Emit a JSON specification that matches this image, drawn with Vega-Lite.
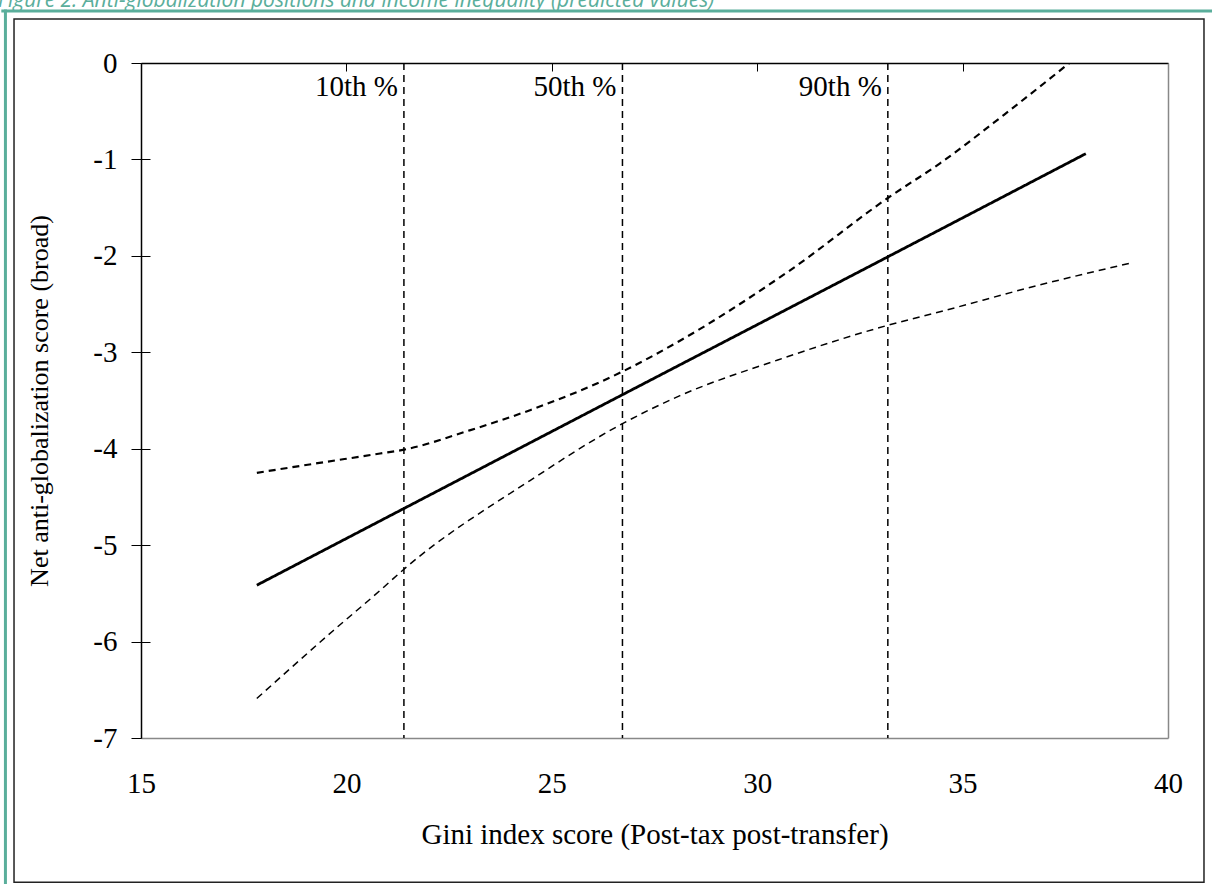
{
  "$schema": "https://vega.github.io/schema/vega-lite/v6.json",
  "width": 1027,
  "height": 675,
  "autosize": {"type": "none"},
  "padding": {"left": 141, "top": 63, "right": 44, "bottom": 146},
  "background": "white",
  "config": {"view": {"stroke": null}, "font": "Liberation Serif"},
  "title": {
    "text": "Figure 2: Anti-globalization positions and income inequality (predicted values)",
    "anchor": "start",
    "frame": "group",
    "dx": -143,
    "dy": 22,
    "offset": 2,
    "baseline": "alphabetic",
    "font": "Open Sans",
    "fontStyle": "italic",
    "fontWeight": "normal",
    "fontSize": 21,
    "color": "#5aae9b"
  },
  "datasets": {
    "curves": [
      {"gini": 17.82, "score": -5.415, "series": "fit"},
      {"gini": 21.4, "score": -4.62, "series": "fit"},
      {"gini": 26.72, "score": -3.44, "series": "fit"},
      {"gini": 33.18, "score": -2.01, "series": "fit"},
      {"gini": 38.0, "score": -0.94, "series": "fit"},
      {"gini": 17.82, "score": -4.25, "series": "upper"},
      {"gini": 19.3, "score": -4.15, "series": "upper"},
      {"gini": 20.82, "score": -4.05, "series": "upper"},
      {"gini": 21.4, "score": -4.01, "series": "upper"},
      {"gini": 23.0, "score": -3.81, "series": "upper"},
      {"gini": 24.47, "score": -3.6, "series": "upper"},
      {"gini": 26.72, "score": -3.2, "series": "upper"},
      {"gini": 28.12, "score": -2.88, "series": "upper"},
      {"gini": 30.8, "score": -2.15, "series": "upper"},
      {"gini": 33.18, "score": -1.4, "series": "upper"},
      {"gini": 34.45, "score": -1.04, "series": "upper"},
      {"gini": 36.0, "score": -0.54, "series": "upper"},
      {"gini": 37.6, "score": 0.0, "series": "upper"},
      {"gini": 17.82, "score": -6.59, "series": "lower"},
      {"gini": 19.67, "score": -5.89, "series": "lower"},
      {"gini": 20.82, "score": -5.47, "series": "lower"},
      {"gini": 21.4, "score": -5.25, "series": "lower"},
      {"gini": 24.47, "score": -4.33, "series": "lower"},
      {"gini": 26.72, "score": -3.74, "series": "lower"},
      {"gini": 28.12, "score": -3.45, "series": "lower"},
      {"gini": 30.5, "score": -3.08, "series": "lower"},
      {"gini": 33.18, "score": -2.72, "series": "lower"},
      {"gini": 34.45, "score": -2.58, "series": "lower"},
      {"gini": 36.8, "score": -2.31, "series": "lower"},
      {"gini": 39.14, "score": -2.07, "series": "lower"}
    ],
    "pct": [
      {"label": "10th %", "gini": 21.4},
      {"label": "50th %", "gini": 26.72},
      {"label": "90th %", "gini": 33.18}
    ]
  },
  "layer": [
    {
      "data": {"values": [{}]},
      "mark": {"type": "rule", "color": "#5aae9b", "strokeWidth": 3},
      "encoding": {
        "x": {"datum": 11.6, "type": "quantitative", "scale": {"domain": [15, 40], "nice": false, "zero": false}, "axis": null},
        "x2": {"datum": 41.2},
        "y": {"datum": 0.54, "type": "quantitative", "scale": {"domain": [-7, 0], "nice": false, "zero": false}, "axis": null}
      }
    },
    {
      "data": {"values": [{}]},
      "mark": {"type": "rule", "color": "#5aae9b", "strokeWidth": 3},
      "encoding": {
        "x": {"datum": 11.7, "type": "quantitative", "scale": {"domain": [15, 40], "nice": false, "zero": false}, "axis": null},
        "y": {"datum": 0.555, "type": "quantitative", "scale": {"domain": [-7, 0], "nice": false, "zero": false}, "axis": null},
        "y2": {"datum": -8.6}
      }
    },
    {
      "data": {"values": [{}]},
      "mark": {"type": "rect", "filled": false, "stroke": "#222222", "strokeWidth": 1.5},
      "encoding": {
        "x": {"datum": 11.909, "type": "quantitative", "scale": {"domain": [15, 40], "nice": false, "zero": false}, "axis": null},
        "x2": {"datum": 40.876},
        "y": {"datum": 0.456, "type": "quantitative", "scale": {"domain": [-7, 0], "nice": false, "zero": false}, "axis": null},
        "y2": {"datum": -8.496}
      }
    },
    {
      "data": {"name": "pct"},
      "mark": {"type": "rule", "color": "black", "strokeWidth": 1.5, "strokeDash": [7, 5]},
      "encoding": {
        "x": {
          "field": "gini", "type": "quantitative",
          "scale": {"domain": [15, 40], "nice": false, "zero": false},
          "axis": {
            "orient": "bottom",
            "values": [15, 20, 25, 30, 35, 40],
            "labelExpr": "datum.value + ''",
            "domainColor": "#888888", "domainWidth": 1.5,
            "ticks": false, "tickSize": 0,
            "labelFont": "Liberation Serif", "labelFontSize": 29, "labelColor": "black", "labelPadding": 31,
            "labelFlush": false,
            "grid": true, "gridColor": "black", "gridWidth": 1, "gridDash": [0, 667, 8, 3000], "gridOpacity": 1,
            "title": "Gini index score (Post-tax post-transfer)",
            "titleFont": "Liberation Serif", "titleFontSize": 29, "titleFontWeight": "normal", "titleColor": "black", "titlePadding": 22
          }
        }
      }
    },
    {
      "data": {"name": "pct"},
      "mark": {"type": "text", "align": "right", "baseline": "middle", "dx": -6, "font": "Liberation Serif", "fontSize": 29, "color": "black"},
      "encoding": {
        "x": {"field": "gini", "type": "quantitative", "scale": {"domain": [15, 40], "nice": false, "zero": false}, "axis": null},
        "y": {
          "datum": -0.25, "type": "quantitative",
          "scale": {"domain": [-7, 0], "nice": false, "zero": false},
          "axis": {"orient": "right", "domainColor": "#888888", "domainWidth": 1.5, "ticks": false, "labels": false, "grid": false, "title": null}
        },
        "text": {"field": "label"}
      }
    },
    {
      "data": {"name": "curves"},
      "mark": {"type": "line", "color": "black", "interpolate": "monotone", "clip": true},
      "encoding": {
        "x": {
          "field": "gini", "type": "quantitative",
          "scale": {"domain": [15, 40], "nice": false, "zero": false},
          "axis": {"orient": "top", "domainColor": "black", "domainWidth": 1.5, "ticks": false, "labels": false, "grid": false, "title": null}
        },
        "y": {
          "field": "score", "type": "quantitative",
          "scale": {"domain": [-7, 0], "nice": false, "zero": false},
          "axis": {
            "orient": "left",
            "values": [-7, -6, -5, -4, -3, -2, -1, 0],
            "labelExpr": "datum.value + ''",
            "domainColor": "black", "domainWidth": 1.5,
            "ticks": true, "tickSize": 10, "tickColor": "black", "tickWidth": 1,
            "labelFont": "Liberation Serif", "labelFontSize": 29, "labelColor": "black", "labelPadding": 14,
            "labelFlush": false,
            "grid": true, "gridColor": "black", "gridWidth": 1, "gridDash": [9, 3000], "gridOpacity": 1,
            "title": "Net anti-globalization score (broad)",
            "titleFont": "Liberation Serif", "titleFontSize": 26, "titleFontWeight": "normal", "titleColor": "black", "titlePadding": 40
          }
        },
        "detail": {"field": "series", "type": "nominal"},
        "strokeDash": {
          "field": "series", "type": "nominal",
          "scale": {"domain": ["fit", "upper", "lower"], "range": [[1, 0], [7, 5], [7, 5]]},
          "legend": null
        },
        "strokeWidth": {
          "field": "series", "type": "nominal",
          "scale": {"domain": ["fit", "upper", "lower"], "range": [2.8, 1.5, 1.5]},
          "legend": null
        }
      }
    }
  ]
}
